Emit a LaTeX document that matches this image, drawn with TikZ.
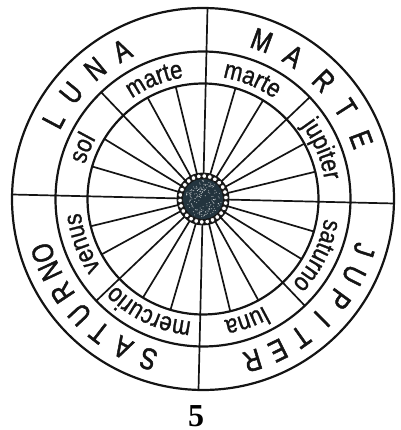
\documentclass[tikz,border=0pt]{standalone}
\usepackage{fontspec}
\setmainfont{Liberation Sans}
\newfontfamily\capfont[FakeStretch=0.8,FakeBold=1.6]{Liberation Sans}
\newfontfamily\wordfont[FakeStretch=0.85,FakeBold=1.0]{Liberation Sans}
\newfontfamily\numfont{Liberation Serif}
\usetikzlibrary{decorations.text}
\definecolor{ink}{RGB}{20,20,20}
\definecolor{hubfill}{RGB}{35,52,62}
\newcommand\ringword[2]{\path[decorate,decoration={text along path,text align=center,text color=ink,
  text={|\wordfont\fontsize{26}{26}\selectfont|#2}}] ({#1+40}:123) arc[start angle={#1+40}, end angle={#1-40}, radius=123];}
\begin{document}
\begin{tikzpicture}[x=1pt,y=1pt,
  ring/.style={draw=ink,line width=2.2pt},
  spoke/.style={draw=ink,line width=1.7pt},
  capletter/.style={font=\capfont\fontsize{30}{30}\selectfont, text=ink, inner sep=0pt, transform shape},
  numstyle/.style={font=\numfont\bfseries\fontsize{32}{32}\selectfont, text=black, inner sep=0pt}]
\useasboundingbox (-203,-231) rectangle (197,199);
\begin{scope}[rotate=-1.35]
  \coordinate (O) at (0,0);
  % spokes and dividers
  \foreach \a in {0,15,...,345}{
    \pgfmathsetmacro\len{ifthenelse(mod(\a,90)==0,191,ifthenelse(mod(\a,45)==0,147.5,115.5))}
    \draw[spoke] (O) -- (\a:\len);
  }
  % circles
  \draw[ring] (O) circle (191);
  \draw[ring] (O) circle (147.5);
  \draw[ring] (O) circle (115.5);
  % hub
  \fill[ink] (O) circle (26.5);
  \fill[hubfill] (O) circle (20);
  \pgfmathsetseed{7}
  \foreach \i in {1,...,160}
    \fill[white,opacity=0.6] ({360*rnd}:{18.5*sqrt(rnd)}) circle (0.55);
  \foreach \k in {0,...,25}
    \draw[line width=0.7pt, draw=ink, fill=white] ({\k*360/26+5}:23) circle (2.4);
  % outer ring letters
  \foreach \ch/\ang [count=\i] in {L/153.5, U/142.5, N/131, A/120,
      M/71, A/59, R/45.7, T/33.8, E/22,
      J/-16.2, U/-25.5, P/-35, I/-43.9, T/-53.3, E/-62.3, R/-71.6,
      S/-107.5, A/-117, T/-126.5, U/-135.5, R/-145, N/-153.5, O/-160}
    \node[capletter, rotate=\ang-90] (c\i) at (\ang:169) {\ch};
  % inner ring words
  \ringword{158.5}{sol}
  \ringword{113.5}{marte}
  \ringword{69}{marte}
  \ringword{24}{jupiter}
  \ringword{-25}{saturno}
  \ringword{-69}{luna}
  \ringword{-114}{mercurio}
  \ringword{-158.5}{venus}
\end{scope}
\node[numstyle] (num) at (-7,-217.5) {5};
\end{tikzpicture}
\end{document}
